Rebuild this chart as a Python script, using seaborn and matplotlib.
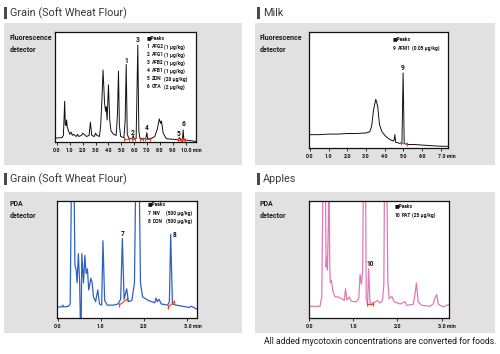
import matplotlib
matplotlib.use("Agg")
import matplotlib.pyplot as plt
import matplotlib.transforms as mtransforms
from matplotlib.patches import Rectangle
import seaborn as sns

#%% data (time in min, signal as fraction of plot height)
wheat_fl_t = [-0.15, 0.40, 0.50, 0.55, 0.60, 0.65, 0.70, 0.75, 0.80, 0.90, 1.00, 1.10, 1.20, 1.30, 1.50, 1.60,
              1.70, 1.90, 2.00, 2.10, 2.30, 2.50, 2.60, 2.70, 2.90, 3.00, 3.10, 3.30, 3.40, 3.50, 3.58, 3.70,
              3.78, 3.82, 3.90, 4.00, 4.10, 4.20, 4.40, 4.60, 4.70, 4.78, 4.85, 4.95, 5.20, 5.30, 5.38, 5.46,
              5.60, 5.85, 5.92, 6.00, 6.15, 6.20, 6.28, 6.36, 6.45, 6.90, 6.98, 7.05, 7.30, 7.60, 7.80, 7.95,
              8.05, 8.12, 8.25, 8.50, 9.40, 9.52, 9.60, 9.75, 9.80, 9.86, 10.20, 10.80]
wheat_fl_y = [0.035, 0.04, 0.06, 0.20, 0.37, 0.16, 0.15, 0.20, 0.14, 0.10, 0.07, 0.09, 0.06, 0.07, 0.05, 0.07,
              0.05, 0.06, 0.08, 0.07, 0.05, 0.06, 0.18, 0.06, 0.05, 0.08, 0.06, 0.05, 0.15, 0.40, 0.655, 0.35,
              0.28, 0.32, 0.20, 0.52, 0.20, 0.10, 0.07, 0.06, 0.25, 0.645, 0.15, 0.05, 0.04, 0.20, 0.705, 0.07,
              0.03, 0.03, 0.06, 0.025, 0.03, 0.35, 0.88, 0.10, 0.03, 0.03, 0.085, 0.03, 0.03, 0.05, 0.12, 0.21,
              0.17, 0.19, 0.08, 0.03, 0.02, 0.04, 0.02, 0.02, 0.11, 0.02, 0.015, 0.005]

milk_t = [-0.05, 0.5, 1.0, 1.5, 2.0, 2.5, 3.0, 3.2, 3.3, 3.4, 3.52, 3.62, 3.72, 3.85, 4.05, 4.25, 4.45, 4.5,
          4.54, 4.58, 4.8, 4.92, 4.98, 5.04, 5.2, 5.6, 6.0, 6.5, 7.0, 7.38]
milk_y = [0.115, 0.115, 0.12, 0.12, 0.125, 0.125, 0.13, 0.14, 0.19, 0.33, 0.42, 0.36, 0.20, 0.14, 0.10, 0.075,
          0.06, 0.07, 0.115, 0.05, 0.04, 0.05, 0.647, 0.04, 0.03, 0.03, 0.025, 0.02, 0.015, 0.015]

wheat_pda_t = [-0.015, 0.10, 0.12, 0.14, 0.25, 0.29, 0.33, 0.37, 0.40, 0.43, 0.45, 0.48, 0.51, 0.53, 0.545,
               0.56, 0.60, 0.63, 0.66, 0.69, 0.72, 0.77, 0.80, 0.83, 0.88, 0.93, 0.97, 1.02, 1.05, 1.09, 1.15,
               1.30, 1.40, 1.46, 1.50, 1.54, 1.60, 1.64, 1.72, 1.78, 1.82, 1.88, 1.92, 1.97, 2.10, 2.25, 2.28,
               2.31, 2.35, 2.40, 2.55, 2.59, 2.62, 2.66, 2.75, 2.90, 3.05, 3.10, 3.23]
wheat_pda_y = [0.094, 0.095, 0.11, 0.095, 0.10, 0.12, 1.5, 1.5, 0.45, 0.41, 0.30, 0.55, 0.30, -0.1, -0.1,
               0.55, 0.30, 0.535, 0.38, 0.42, 0.24, 0.34, 0.30, 0.18, 0.14, 0.24, 0.12, 0.11, 0.66, 0.15, 0.11,
               0.11, 0.12, 0.16, 0.68, 0.16, 0.25, 0.14, 0.15, 0.30, 1.5, 1.5, 0.30, 0.18, 0.15, 0.13, 0.17,
               0.14, 0.16, 0.12, 0.11, 0.14, 0.715, 0.12, 0.11, 0.10, 0.09, 0.10, 0.075]

apple_t = [-0.01, 0.24, 0.28, 0.317, 0.355, 0.378, 0.393, 0.408, 0.43, 0.446, 0.46, 0.475, 0.50, 0.53, 0.58,
           0.66, 0.73, 0.79, 0.82, 0.85, 0.91, 0.945, 1.06, 1.12, 1.15, 1.18, 1.21, 1.23, 1.27, 1.29, 1.32,
           1.345, 1.375, 1.45, 1.55, 1.60, 1.66, 1.69, 1.71, 1.75, 1.78, 1.81, 1.87, 1.92, 2.06, 2.17, 2.21,
           2.36, 2.40, 2.43, 2.47, 2.55, 2.74, 2.81, 2.86, 2.89, 2.93, 3.04, 3.17]
apple_y = [0.10, 0.10, 0.18, 1.5, 1.5, 0.436, 0.52, 0.41, 0.81, 1.5, 0.45, 0.30, 0.32, 0.236, 0.18,
           0.18, 0.165, 0.15, 0.25, 0.155, 0.18, 0.145, 0.137, 0.165, 0.373, 0.29, 0.40, 1.5, 1.5, 0.165, 0.12,
           0.42, 0.128, 0.128, 0.15, 0.128, 0.15, 0.29, 1.5, 1.5, 0.32, 0.165, 0.185, 0.14, 0.12, 0.14, 0.108,
           0.117, 0.21, 0.30, 0.137, 0.108, 0.10, 0.12, 0.18, 0.20, 0.117, 0.094, 0.117]

# peak number labels (time, height)
wheat_fl_lab = ['1', '2', '3', '4', '5', '6']
wheat_fl_lab_t = [5.38, 5.90, 6.28, 7.00, 9.45, 9.80]
wheat_fl_lab_y = [0.74, 0.085, 0.93, 0.13, 0.07, 0.165]
milk_lab, milk_lab_t, milk_lab_y = ['9'], [4.98], [0.69]
wheat_pda_lab, wheat_pda_lab_t, wheat_pda_lab_y = ['7', '8'], [1.51, 2.70], [0.72, 0.71]
apple_lab, apple_lab_t, apple_lab_y = ['10'], [1.39], [0.46]

# integration marks (start, end, level start, level end)
wheat_fl_int = [(5.22, 5.60, 0.03, 0.03), (5.80, 6.05, 0.025, 0.025), (6.45, 6.70, 0.025, 0.025),
                (6.85, 7.25, 0.025, 0.025), (9.42, 9.65, 0.015, 0.015), (9.72, 9.95, 0.015, 0.015)]
milk_int = [(4.88, 5.20, 0.04, 0.035)]
wheat_pda_int = [(1.43, 1.60, 0.11, 0.16), (2.56, 2.70, 0.09, 0.14)]
apple_int = [(1.30, 1.45, 0.12, 0.12)]

# legends
wheat_fl_ids = ['1', '2', '3', '4', '5', '6']
wheat_fl_names = ['AFG2', 'AFG1', 'AFB2', 'AFB1', 'ZON', 'OTA']
wheat_fl_conc = ['(1 μg/kg)', '(1 μg/kg)', '(1 μg/kg)', '(1 μg/kg)', '(20 μg/kg)', '(2 μg/kg)']
milk_ids, milk_names, milk_conc = ['9'], ['AFM1'], ['(0.05 μg/kg)']
wheat_pda_ids, wheat_pda_names, wheat_pda_conc = ['7', '8'], ['NIV', 'DON'], ['(500 μg/kg)', '(500 μg/kg)']
apple_ids, apple_names, apple_conc = ['10'], ['PAT'], ['(25 μg/kg)']

#%% layout helpers (pixel coords of the 500x354 picture)
W, H = 500, 354


def fx(x):
    return x / W


def fy(y):
    return 1 - y / H


sns.set_style("white")
plt.rcParams['font.family'] = ['Roboto', 'DejaVu Sans']

fig = plt.figure(figsize=(5, 3.54), dpi=100)

# gray panel backgrounds
for x0, y0, x1, y1 in [(4, 23, 242, 165), (255, 23, 495, 165), (4, 192, 242, 333), (255, 192, 495, 333)]:
    fig.patches.append(Rectangle((fx(x0), fy(y1)), (x1 - x0) / W, (y1 - y0) / H, transform=fig.transFigure,
                                 facecolor='#e1e1e1', edgecolor='none', zorder=-5))

# section titles with the little bar
for x, y, title in [(4, 13, 'Grain (Soft Wheat Flour)'), (256.5, 13, 'Milk'),
                    (4, 179, 'Grain (Soft Wheat Flour)'), (256.5, 179, 'Apples')]:
    fig.patches.append(Rectangle((fx(x), fy(y + 6)), 3 / W, 12 / H, transform=fig.transFigure,
                                 facecolor='#4a4a4a', edgecolor='none'))
    fig.text(fx(x + 6.5), fy(y), title, fontsize=7.8, color='#3a3a3a', va='center', ha='left')

for x, y, l1 in [(10, 38, 'Fluorescence'), (260, 38, 'Fluorescence'), (10, 204, 'PDA'), (260, 204, 'PDA')]:
    fig.text(fx(x), fy(y), l1, fontsize=5, fontweight='bold', color='#1a1a1a', va='center', ha='left')
    fig.text(fx(x), fy(y + 12.5), 'detector', fontsize=5, fontweight='bold', color='#1a1a1a',
             va='center', ha='left')

fig.text(fx(496), fy(341), 'All added mycotoxin concentrations are converted for foods.', fontsize=6.2,
         color='#1a1a1a', ha='right', va='center')


def panel(px, t, y, color, lw, xlim, xticks, lab, lab_t, lab_y, integ, lx, ly, ids, names, conc, col_x):
    x0, y0, x1, y1 = px
    ax = fig.add_axes([fx(x0), fy(y1), (x1 - x0) / W, (y1 - y0) / H])
    ax.set_zorder(5)
    ax.set_facecolor('white')
    sns.lineplot(x=t, y=y, ax=ax, color=color, linewidth=lw, estimator=None, sort=False)
    for s, e, ys, ye in integ:
        ax.plot([s, e], [ys, ye], color='#ff3a1a', lw=0.8, marker='|', ms=3, mew=0.8)
    for s, tt, yy in zip(lab, lab_t, lab_y):
        ax.text(tt, yy, s, fontsize=4.8, fontweight='bold', ha='center', va='center', color='#111')
    ax.set_xlim(*xlim)
    ax.set_ylim(0, 1)
    ax.set_yticks([])
    ax.set_xticks(xticks)
    labels = ['%.1f' % v for v in xticks]
    labels[-1] = labels[-1] + ' min'
    ax.set_xticklabels(labels)
    ax.tick_params(axis='x', direction='out', length=2, width=0.6, pad=2, labelsize=3.8, colors='#111',
                   bottom=True)
    for lbl in ax.get_xticklabels():
        lbl.set_fontweight('bold')
    last = ax.get_xticklabels()[-1]
    last.set_transform(last.get_transform() + mtransforms.ScaledTranslation(4.2 / 72, 0, fig.dpi_scale_trans))
    for sp in ax.spines.values():
        sp.set_visible(True)
        sp.set_color('#111')
        sp.set_linewidth(0.9)
    ax.set_xlabel('')
    ax.set_ylabel('')
    # legend block
    kw = dict(fontsize=3.5, fontweight='bold', color='#111', va='center', ha='left', zorder=10)
    fig.text(fx(lx), fy(ly), '■Peaks', **kw)
    for i, (a, b, c) in enumerate(zip(ids, names, conc)):
        yy = ly + 9.5 + i * 8.0
        fig.text(fx(lx), fy(yy), a, **kw)
        fig.text(fx(lx + col_x[0]), fy(yy), b, **kw)
        fig.text(fx(lx + col_x[1]), fy(yy), c, **kw)
    return ax


panel((55, 32, 196, 142), wheat_fl_t, wheat_fl_y, '#111111', 0.7, (-0.15, 10.8), list(range(0, 11)),
      wheat_fl_lab, wheat_fl_lab_t, wheat_fl_lab_y, wheat_fl_int, 147, 37.5,
      wheat_fl_ids, wheat_fl_names, wheat_fl_conc, (4.5, 17))
panel((309, 32, 448, 148), milk_t, milk_y, '#111111', 0.7, (-0.05, 7.38), list(range(0, 8)),
      milk_lab, milk_lab_t, milk_lab_y, milk_int, 393, 39,
      milk_ids, milk_names, milk_conc, (5, 19.5))
panel((57, 201, 197, 318), wheat_pda_t, wheat_pda_y, '#2f62c0', 0.9, (-0.015, 3.23), [0, 1, 2, 3],
      wheat_pda_lab, wheat_pda_lab_t, wheat_pda_lab_y, wheat_pda_int, 148, 204,
      wheat_pda_ids, wheat_pda_names, wheat_pda_conc, (4.5, 18))
panel((309, 201, 449, 318), apple_t, apple_y, '#e07ab6', 0.9, (-0.01, 3.17), [0, 1, 2, 3],
      apple_lab, apple_lab_t, apple_lab_y, apple_int, 395, 206,
      apple_ids, apple_names, apple_conc, (7, 16.5))

fig.savefig('out.png', dpi=100, facecolor='white')
